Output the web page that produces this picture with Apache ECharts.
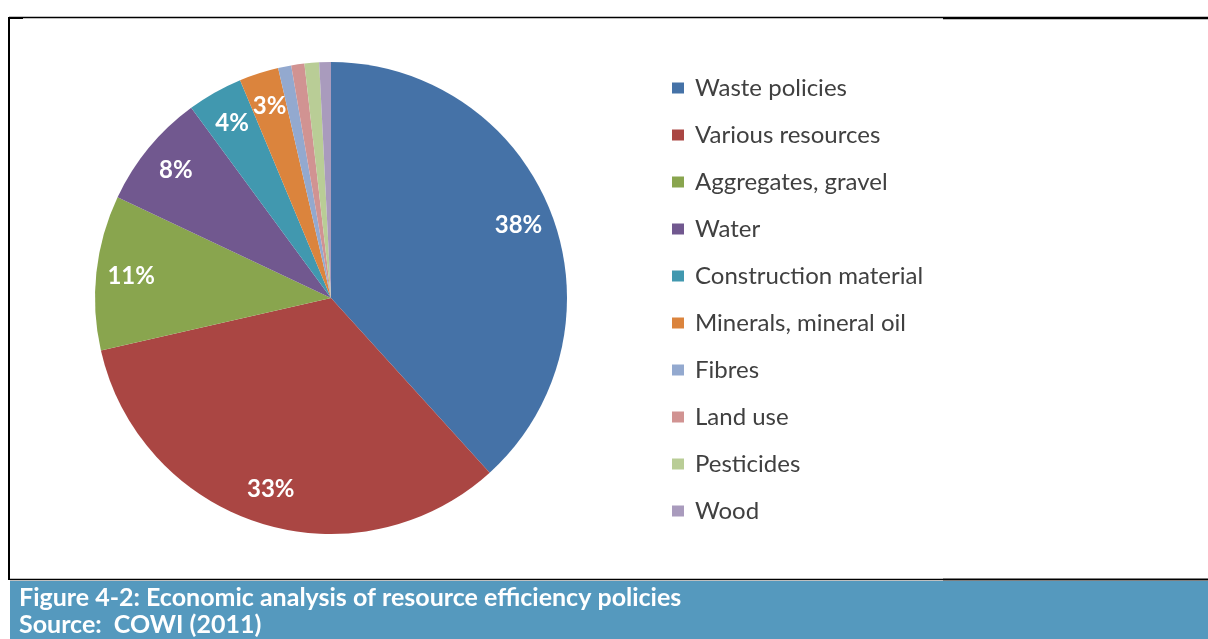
<!DOCTYPE html>
<html>
<head>
<meta charset="utf-8">
<script src="https://cdn.jsdelivr.net/npm/echarts@6/dist/echarts.min.js"></script>
<style>
html,body{margin:0;padding:0;background:#fff;}
#c{width:1208px;height:639px;}
</style>
</head>
<body>
<div id="c"></div>
<script>
const categories = ['Waste policies','Various resources','Aggregates, gravel','Water','Construction material','Minerals, mineral oil','Fibres','Land use','Pesticides','Wood'];
const shares = [38.3, 33.2, 10.6, 7.9, 3.8, 2.7, 0.9, 0.9, 1.0, 0.8];
const colors = ['#4572A7','#AA4643','#89A54E','#71588F','#4198AF','#DB843D','#93A9CF','#D19392','#B9CD96','#A99BBD'];
const captionLines = ['Figure 4-2: Economic analysis of resource efficiency policies','Source:  COWI (2011)'];

const pieData = categories.map((n,i)=>({name:n, value:shares[i], itemStyle:{color:colors[i]}}));
const labelData = categories.map((n,i)=>({name:n, value:shares[i]}));

const chart = echarts.init(document.getElementById('c'), null, {renderer:'canvas'});
chart.setOption({
  animation:false,
  backgroundColor:'#ffffff',
  color: colors,
  legend:{
    orient:'vertical', left:667, top:71,
    data: categories,
    icon:'rect', itemWidth:12, itemHeight:11, itemGap:23,
    textStyle:{fontFamily:'Lato', fontSize:24, lineHeight:24, color:'#404040', padding:[0,0,0,6]},
    selectedMode:false
  },
  series:[
    {
      type:'pie', center:[331,298], radius:[0,236], startAngle:90, clockwise:true,
      label:{show:false}, labelLine:{show:false}, silent:true,
      itemStyle:{borderWidth:0},
      data: pieData
    },
    {
      type:'pie', center:[331,298], radius:[160,236], startAngle:90, clockwise:true,
      silent:true, percentPrecision:2,
      itemStyle:{color:'rgba(0,0,0,0)', borderWidth:0},
      labelLine:{show:false},
      label:{
        show:true, position:'inside', color:'#ffffff', fontFamily:'Lato', fontWeight:'bold', fontSize:24,
        formatter: p => p.value >= 2 ? Math.round(p.percent) + '%' : ''
      },
      data: labelData
    }
  ],
  graphic:[
    {type:'rect', shape:{x:10, y:581, width:1198, height:58}, style:{fill:'#5599BE'}},
    {type:'line', shape:{x1:9, y1:17.5, x2:943, y2:17.5}, style:{stroke:'#000', lineWidth:1.5}},
    {type:'line', shape:{x1:943, y1:18, x2:1208, y2:18}, style:{stroke:'#000', lineWidth:2.5}},
    {type:'line', shape:{x1:9, y1:17, x2:9, y2:580}, style:{stroke:'#000', lineWidth:2}},
    {type:'line', shape:{x1:9, y1:18, x2:23, y2:18}, style:{stroke:'#000', lineWidth:2}},
    {type:'line', shape:{x1:10, y1:579.5, x2:943, y2:579.5}, style:{stroke:'#000', lineWidth:1.5}},
    {type:'line', shape:{x1:943, y1:579.5, x2:1208, y2:579.5}, style:{stroke:'#000', lineWidth:2}},
    {type:'text', x:19, y:598, style:{text:captionLines[0], fill:'#ffffff', font:'bold 25px Lato', textVerticalAlign:'middle'}},
    {type:'text', x:19, y:625, style:{text:captionLines[1], fill:'#ffffff', font:'bold 25px Lato', textVerticalAlign:'middle'}}
  ]
});
</script>
</body>
</html>
